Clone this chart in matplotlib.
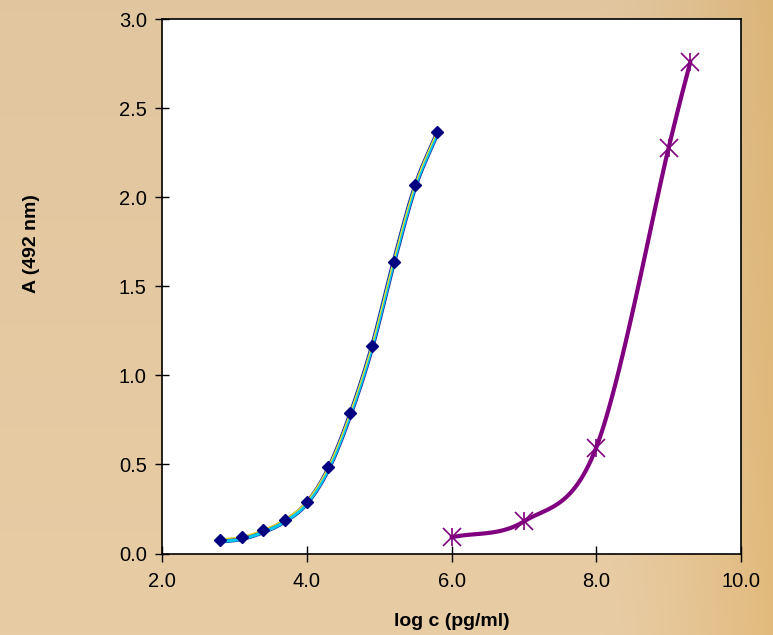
import numpy as np
import matplotlib
matplotlib.use("Agg")
import matplotlib.pyplot as plt

plt.rcParams['font.family'] = ['Liberation Sans', 'DejaVu Sans']

# Data
x_blue = [2.8, 3.1, 3.4, 3.7, 4.0, 4.3, 4.6, 4.9, 5.2, 5.5, 5.8]
y_blue = [0.077, 0.091, 0.13, 0.19, 0.29, 0.484, 0.786, 1.164, 1.639, 2.07, 2.364]
x_purple = [6.0, 7.0, 8.0, 9.0, 9.3]
y_purple = [0.091, 0.18, 0.595, 2.277, 2.76]
xticks = [2.0, 4.0, 6.0, 8.0, 10.0]
yticks = [0.0, 0.5, 1.0, 1.5, 2.0, 2.5, 3.0]


def smooth(xs, ys, n=30):
    # Catmull-Rom style smoothing (like Excel smoothed lines)
    p = np.column_stack([xs, ys]).astype(float)
    p = np.vstack([p[0] * 2 - p[1], p, p[-1] * 2 - p[-2]])
    out = []
    t = np.linspace(0, 1, n)[:, None]
    for i in range(1, len(p) - 2):
        p0, p1, p2, p3 = p[i - 1], p[i], p[i + 1], p[i + 2]
        c1 = p1 + (p2 - p0) / 6
        c2 = p2 - (p3 - p1) / 6
        seg = ((1 - t) ** 3) * p1 + 3 * ((1 - t) ** 2) * t * c1 + 3 * (1 - t) * t ** 2 * c2 + t ** 3 * p2
        out.append(seg if i == 1 else seg[1:])
    s = np.vstack(out)
    return s[:, 0], s[:, 1]


fig = plt.figure(figsize=(7.73, 6.35), dpi=100)

# background
bg = fig.add_axes([0, 0, 1, 1], zorder=-10)
W, H = 773, 635
gx = np.linspace(0, 1, W)[None, :]
gy = np.linspace(0, 1, H)[:, None]
base = np.array([232, 204, 164]) / 255.0
edge = np.array([226, 186, 124]) / 255.0
wr = np.clip((gx - 0.78) / 0.22, 0, 1) ** 1.4 + 0 * gy
img = base[None, None, :] * (1 - wr[..., None]) + edge[None, None, :] * wr[..., None]
dark = 0.97 + 0.03 * gy
img = img * dark[..., None] * np.ones_like(gx)[..., None]
bg.imshow(np.clip(img, 0, 1), aspect='auto', extent=[0, 1, 0, 1])
bg.axis('off')

ax = fig.add_axes([0.2096, 0.1283, 0.7490, 0.8417])
ax.set_facecolor('white')

sx, sy = smooth(x_blue, y_blue)
ax.plot(sx, sy - 0.008, color='#2020A0', lw=3.4, solid_capstyle='round', zorder=2)
ax.plot(sx, sy - 0.01, color='#00C8F0', lw=2.2, solid_capstyle='round', zorder=3)
ax.plot(sx, sy + 0.004, color='#F0E020', lw=0.9, zorder=4)
ax.plot(x_blue, y_blue, linestyle='none', marker='D', markersize=6,
        color='#000080', zorder=5)

px, py = smooth(x_purple, y_purple)
ax.plot(px, py, color='#800080', lw=3.0, solid_capstyle='round', zorder=6)
ax.plot(x_purple, y_purple, linestyle='none', marker='x', markersize=13,
        markeredgewidth=1.2, color='#800080', zorder=7)
ax.plot(x_purple, y_purple, linestyle='none', marker='|', markersize=13,
        markeredgewidth=1.2, color='#800080', zorder=7)

ax.set_xlim(2.0, 10.0)
ax.set_ylim(0.0, 3.0)
ax.set_xticks(xticks)
ax.set_yticks(yticks)
ax.set_xticklabels([f"{v:.1f}" for v in xticks])
ax.set_yticklabels([f"{v:.1f}" for v in yticks])
ax.tick_params(axis='x', direction='inout', length=11, width=1, labelsize=14.5, pad=8)
ax.tick_params(axis='y', direction='inout', length=10, width=1, labelsize=14.5, pad=6)
for s in ax.spines.values():
    s.set_color('black')
    s.set_linewidth(1.2)

fig.text(452 / 773, 1 - 622 / 635, 'log c (pg/ml)', fontsize=14, fontweight='bold',
         ha='center', va='center')
fig.text(32 / 773, 1 - 244 / 635, 'A (492 nm)', fontsize=14, fontweight='bold',
         ha='center', va='center', rotation=90)

fig.savefig('out.png', dpi=100)
